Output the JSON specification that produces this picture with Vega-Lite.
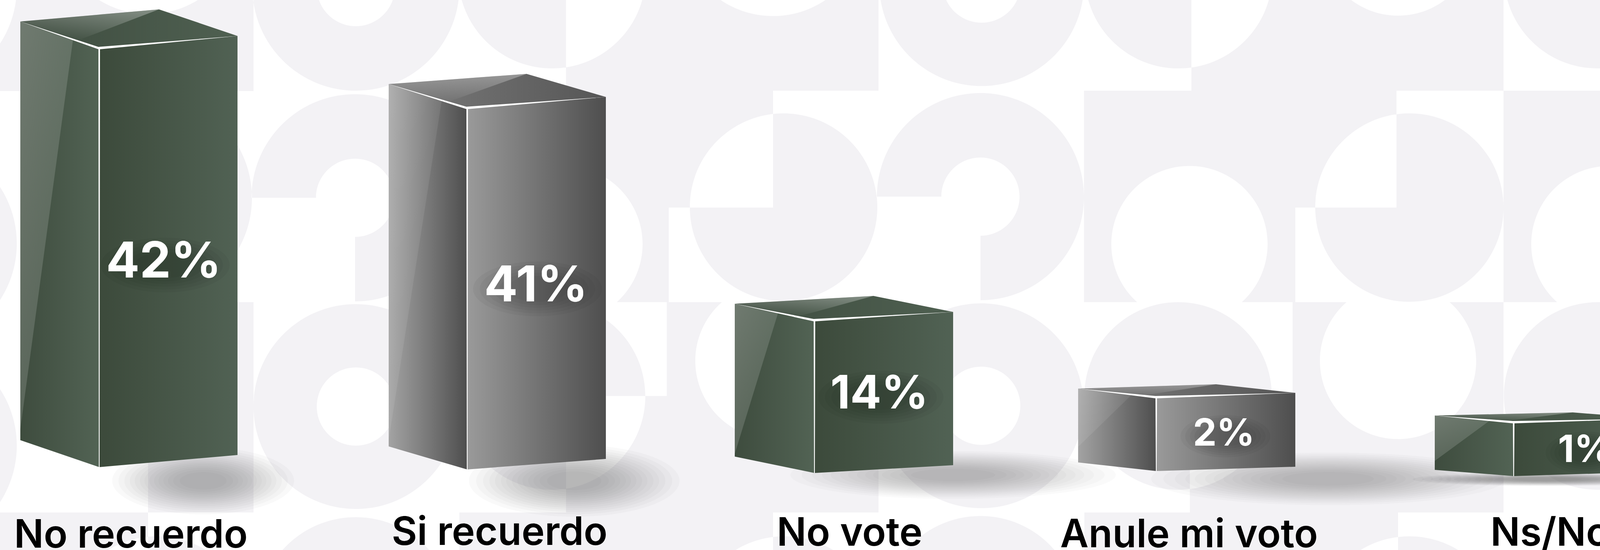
{
"$schema":"https://vega.github.io/schema/vega-lite/v6.json",
"width":4195,"height":1407,"autosize":"none","padding":0,"background":"#ffffff",
"config":{"view":{"stroke":null}},
"data":{"values":[
{"label":"No recuerdo","value":0.42,"rank":1,"tone":"green"},
{"label":"Si recuerdo","value":0.41,"rank":2,"tone":"grey"},
{"label":"No vote","value":0.14,"rank":3,"tone":"green"},
{"label":"Anule mi voto","value":0.02,"rank":4,"tone":"grey"},
{"label":"Ns/Nc","value":0.01,"rank":5,"tone":"green"}
]},
"resolve":{"scale":{"x":"independent","y":"independent","shape":"independent","size":"independent","opacity":"independent"}},
"layer":[
{"data":{"values":[{"art":"pattern"}]},
 "mark":{"type":"point","clip":true,"filled":true,"size":4,"opacity":1,"strokeWidth":0,"fill":"#f3f2f5",
 "shape":"M0 0H649V233H0ZM0 1311H379V1407H0ZM379 773H649V1311H379ZM1449 0H1979V531H1449ZM1979 0H2249V232H1979ZM1175 232H1449V773H1175ZM1449 531H1712V773H1449ZM1449 1013H1707V1311H1449ZM1707 773H2249V1311H1707ZM1176 1311H1979V1407H1176ZM3050 0H3575V531H3050ZM3575 0H3849V232H3575ZM2775 232H3050V773H2775ZM3050 531H3316V773H3050ZM3046 1013H3309V1311H3046ZM3309 773H3849V1311H3309ZM2776 1311H3579V1407H2776ZM4124 0H4195V232H4124ZM3849 232H4195V773H3849ZM4120 1013H4195V1311H4120ZM-487 -33A265 265 0 1 0 43 -33A265 265 0 1 0 -487 -33ZM140 -204A240 240 0 1 0 620 -204A240 240 0 1 0 140 -204ZM115 506A265 265 0 1 0 645 506A265 265 0 1 0 115 506ZM646 -33A265 265 0 1 0 1176 -33A265 265 0 1 0 646 -33ZM811 -33A100 100 0 1 1 1011 -33A100 100 0 1 1 811 -33ZM649 1040A262 262 0 1 0 1173 1040A262 262 0 1 0 649 1040ZM811 1040A100 100 0 1 1 1011 1040A100 100 0 1 1 811 1040ZM644 506A265 265 0 1 1 909 771V606A100 100 0 1 0 809 506ZM1173 -65A240 240 0 1 0 1653 -65A240 240 0 1 0 1173 -65ZM1739 -199A240 240 0 1 0 2219 -199A240 240 0 1 0 1739 -199ZM1766 530A240 240 0 1 0 2246 530A240 240 0 1 0 1766 530ZM1579 773A200 200 0 1 0 1311 773ZM1172 1013A240 240 0 1 0 1652 1013A240 240 0 1 0 1172 1013ZM1848 773A200 200 0 1 0 2112 773ZM2251 -42A262 262 0 1 0 2775 -42A262 262 0 1 0 2251 -42ZM2413 -42A100 100 0 1 1 2613 -42A100 100 0 1 1 2413 -42ZM2250 1038A262 262 0 1 0 2774 1038A262 262 0 1 0 2250 1038ZM2412 1038A100 100 0 1 1 2612 1038A100 100 0 1 1 2412 1038ZM2245 503A265 265 0 1 1 2510 768V603A100 100 0 1 0 2410 503ZM2777 -65A240 240 0 1 0 3257 -65A240 240 0 1 0 2777 -65ZM3379 -160A200 200 0 1 0 3779 -160A200 200 0 1 0 3379 -160ZM3367 531A241 241 0 1 0 3849 531A241 241 0 1 0 3367 531ZM3179 773A200 200 0 1 0 2911 773ZM2776 1013A240 240 0 1 0 3256 1013A240 240 0 1 0 2776 1013ZM3447 773A200 200 0 1 0 3711 773ZM3850 -65A240 240 0 1 0 4330 -65A240 240 0 1 0 3850 -65ZM4254 773A200 200 0 1 0 3986 773ZM3850 1013A240 240 0 1 0 4330 1013A240 240 0 1 0 3850 1013ZM162 1612A240 240 0 1 0 642 1612A240 240 0 1 0 162 1612ZM659 1575A252 252 0 1 0 1163 1575A252 252 0 1 0 659 1575ZM1768 1612A240 240 0 1 0 2248 1612A240 240 0 1 0 1768 1612ZM2260 1570A250 250 0 1 0 2760 1570A250 250 0 1 0 2260 1570ZM3368 1612A240 240 0 1 0 3848 1612A240 240 0 1 0 3368 1612ZM-487 623A265 265 0 1 0 43 623A265 265 0 1 0 -487 623ZM-487 1140A265 265 0 1 0 43 1140A265 265 0 1 0 -487 1140Z"},
 "encoding":{"x":{"value":0},"y":{"value":0}}},
{"encoding":{
  "x":{"field":"rank","type":"quantitative","axis":null,"scale":{"domain":[1,2,3,4,5],"range":[520,1470,2440,3400,3960]}},
  "y":{"field":"rank","type":"quantitative","axis":null,"scale":{"domain":[1,2,3,4,5],"range":[1230,1230,1215,1225,1226]}},
  "opacity":{"field":"rank","type":"quantitative","legend":null,"scale":{"domain":[1,2,3,4,5],"range":[0.035,0.035,0.026,0.026,0.05]}},
  "shape":{"field":"label","type":"nominal","legend":null,"scale":{"domain":["No recuerdo","Si recuerdo","No vote","Anule mi voto","Ns/Nc"],"range":[
   "M-190 0A190 70 0 1 0 190 0A190 70 0 1 0 -190 0Z",
   "M-220 0A220 75 0 1 0 220 0A220 75 0 1 0 -220 0Z",
   "M-340 0A340 50 0 1 0 340 0A340 50 0 1 0 -340 0Z",
   "M-370 0A370 55 0 1 0 370 0A370 55 0 1 0 -370 0Z",
   "M-280 0A280 14 0 1 0 280 0A280 14 0 1 0 -280 0Z"]}}},
 "layer":[
  {"mark":{"type":"point","clip":true,"filled":true,"size":6,"strokeWidth":0,"fill":"#555555"}},
  {"mark":{"type":"point","clip":true,"filled":true,"size":5.2,"strokeWidth":0,"fill":"#555555"}},
  {"mark":{"type":"point","clip":true,"filled":true,"size":4.5,"strokeWidth":0,"fill":"#555555"}},
  {"mark":{"type":"point","clip":true,"filled":true,"size":3.9,"strokeWidth":0,"fill":"#555555"}},
  {"mark":{"type":"point","clip":true,"filled":true,"size":3.4,"strokeWidth":0,"fill":"#555555"}},
  {"mark":{"type":"point","clip":true,"filled":true,"size":2.9,"strokeWidth":0,"fill":"#555555"}},
  {"mark":{"type":"point","clip":true,"filled":true,"size":2.5,"strokeWidth":0,"fill":"#555555"}},
  {"mark":{"type":"point","clip":true,"filled":true,"size":2.1,"strokeWidth":0,"fill":"#555555"}},
  {"mark":{"type":"point","clip":true,"filled":true,"size":1.75,"strokeWidth":0,"fill":"#555555"}},
  {"mark":{"type":"point","clip":true,"filled":true,"size":1.45,"strokeWidth":0,"fill":"#555555"}},
  {"mark":{"type":"point","clip":true,"filled":true,"size":1.15,"strokeWidth":0,"fill":"#555555"}},
  {"mark":{"type":"point","clip":true,"filled":true,"size":0.9,"strokeWidth":0,"fill":"#555555"}},
  {"mark":{"type":"point","clip":true,"filled":true,"size":0.65,"strokeWidth":0,"fill":"#555555"}},
  {"mark":{"type":"point","clip":true,"filled":true,"size":0.4,"strokeWidth":0,"fill":"#555555"}}
 ]},
{"encoding":{
  "x":{"field":"rank","type":"quantitative","axis":null,"scale":{"domain":[1,2,3,4,5],"range":[254,1196,2085,2960,3875]}},
  "y":{"field":"value","type":"quantitative","axis":null,"scale":{"domain":[0.01,0.02,0.14,0.41,0.42],"range":[1080,1016,819,276,123],"nice":false,"zero":false}},
  "shape":{"field":"label","type":"nominal","legend":null,"scale":{"domain":["No recuerdo","Si recuerdo","No vote","Anule mi voto","Ns/Nc"],"range":[
   "M-202 -68L0 0L0 1072L-202 1003Z",
   "M-201 -61L0 0L0 925L-201 866Z",
   "M-204 -42L0 0L0 391L-204 349Z",
   "M-200 -22L0 0L0 189L-200 167Z",
   "M-202 -17L0 0L0 138L-202 122Z"]}}},
 "layer":[
  {"transform":[{"filter":{"field":"tone","equal":"green"}}],
   "mark":{"type":"point","clip":true,"filled":true,"size":4,"opacity":1,"strokeWidth":0,"fill":{"gradient":"linear","x1":0,"x2":1,"y1":0,"y2":0,"stops":[{"offset":0,"color":"#3e4c3e"},{"offset":1,"color":"#526354"}]}}},
  {"transform":[{"filter":{"field":"tone","equal":"grey"}}],
   "mark":{"type":"point","clip":true,"filled":true,"size":4,"opacity":1,"strokeWidth":0,"fill":{"gradient":"linear","x1":0,"x2":1,"y1":0,"y2":0,"stops":[{"offset":0,"color":"#a3a3a3"},{"offset":1,"color":"#4e4e4e"}]}}}
 ]},
{"encoding":{
  "x":{"field":"rank","type":"quantitative","axis":null,"scale":{"domain":[1,2,3,4,5],"range":[254,1196,2085,2960,3875]}},
  "y":{"field":"value","type":"quantitative","axis":null,"scale":{"domain":[0.01,0.02,0.14,0.41,0.42],"range":[1080,1016,819,276,123],"nice":false,"zero":false}},
  "shape":{"field":"label","type":"nominal","legend":null,"scale":{"domain":["No recuerdo","Si recuerdo","No vote","Anule mi voto","Ns/Nc"],"range":[
   "M0 0L354 -31L354 1041L0 1072Z",
   "M0 0L355 -28L355 898L0 925Z",
   "M0 0L355 -21L355 371L0 391Z",
   "M0 0L356 -11L356 178L0 189Z",
   "M0 0L355 -9L355 127L0 138Z"]}}},
 "layer":[
  {"transform":[{"filter":{"field":"tone","equal":"green"}}],
   "mark":{"type":"point","clip":true,"filled":true,"size":4,"opacity":1,"strokeWidth":0,"fill":{"gradient":"linear","x1":0,"x2":1,"y1":0,"y2":0,"stops":[{"offset":0,"color":"#3c4a3b"},{"offset":1,"color":"#516254"}]}}},
  {"transform":[{"filter":{"field":"tone","equal":"grey"}}],
   "mark":{"type":"point","clip":true,"filled":true,"size":4,"opacity":1,"strokeWidth":0,"fill":{"gradient":"linear","x1":0,"x2":1,"y1":0,"y2":0,"stops":[{"offset":0,"color":"#9a9a9a"},{"offset":1,"color":"#4e4e4e"}]}}}
 ]},
{"encoding":{
  "x":{"field":"rank","type":"quantitative","axis":null,"scale":{"domain":[1,2,3,4,5],"range":[254,1196,2085,2960,3875]}},
  "y":{"field":"value","type":"quantitative","axis":null,"scale":{"domain":[0.01,0.02,0.14,0.41,0.42],"range":[1080,1016,819,276,123],"nice":false,"zero":false}},
  "shape":{"field":"label","type":"nominal","legend":null,"scale":{"domain":["No recuerdo","Si recuerdo","No vote","Anule mi voto","Ns/Nc"],"range":[
   "M-202 -68L153 -99L354 -31L0 0Z",
   "M-201 -61L152 -87L355 -28L0 0Z",
   "M-204 -42L151 -62L355 -21L0 0Z",
   "M-200 -22L153 -33L356 -11L0 0Z",
   "M-202 -17L151 -25L355 -9L0 0Z"]}}},
 "layer":[
  {"transform":[{"filter":{"field":"tone","equal":"green"}}],
   "mark":{"type":"point","clip":true,"filled":true,"size":4,"opacity":1,"strokeWidth":0,"fill":{"gradient":"linear","x1":0,"x2":1,"y1":0,"y2":0,"stops":[{"offset":0,"color":"#3e4c3f"},{"offset":1,"color":"#4f6051"}]}}},
  {"transform":[{"filter":{"field":"tone","equal":"grey"}}],
   "mark":{"type":"point","clip":true,"filled":true,"size":4,"opacity":1,"strokeWidth":0,"fill":{"gradient":"linear","x1":0,"x2":1,"y1":0,"y2":0,"stops":[{"offset":0,"color":"#7c7c7c"},{"offset":1,"color":"#565656"}]}}}
 ]},
{"encoding":{
  "x":{"field":"rank","type":"quantitative","axis":null,"scale":{"domain":[1,2,3,4,5],"range":[254,1196,2085,2960,3875]}},
  "y":{"field":"value","type":"quantitative","axis":null,"scale":{"domain":[0.01,0.02,0.14,0.41,0.42],"range":[1080,1016,819,276,123],"nice":false,"zero":false}},
  "shape":{"field":"label","type":"nominal","legend":null,"scale":{"domain":["No recuerdo","Si recuerdo","No vote","Anule mi voto","Ns/Nc"],"range":[
   "M-202 -68L-67 -23L-202 975Z",
   "M-201 -61L-65 -20L-201 850Z",
   "M-204 -42L-93 -19L-204 342Z",
   "M-200 -22L-62 -7L-200 127Z",
   "M-202 -17L-60 -5L-202 99Z"]}}},
 "layer":[
  {"transform":[{"filter":{"field":"tone","equal":"green"}}],
   "mark":{"type":"point","clip":true,"filled":true,"size":4,"opacity":1,"strokeWidth":0,"fill":{"gradient":"linear","x1":0,"x2":1,"y1":0,"y2":1,"stops":[{"offset":0,"color":"rgba(255,255,255,0.26)"},{"offset":1,"color":"rgba(255,255,255,0.04)"}]}}},
  {"transform":[{"filter":{"field":"tone","equal":"grey"}}],
   "mark":{"type":"point","clip":true,"filled":true,"size":4,"opacity":1,"strokeWidth":0,"fill":{"gradient":"linear","x1":0,"x2":1,"y1":0,"y2":1,"stops":[{"offset":0,"color":"rgba(255,255,255,0.14)"},{"offset":1,"color":"rgba(255,255,255,0.02)"}]}}}
 ]},
{"encoding":{
  "x":{"field":"rank","type":"quantitative","axis":null,"scale":{"domain":[1,2,3,4,5],"range":[254,1196,2085,2960,3875]}},
  "y":{"field":"value","type":"quantitative","axis":null,"scale":{"domain":[0.01,0.02,0.14,0.41,0.42],"range":[1080,1016,819,276,123],"nice":false,"zero":false}},
  "shape":{"field":"label","type":"nominal","legend":null,"scale":{"domain":["No recuerdo","Si recuerdo","No vote","Anule mi voto","Ns/Nc"],"range":[
   "M-202 -68L153 -99L-54 -20Z",
   "M-201 -61L152 -87L-47 -16Z",
   "M-204 -42L151 -62L-43 -9Z",
   "M-200 -22L153 -33L-35 -4Z",
   "M-202 -17L151 -25L-26 -2Z"]}}},
 "mark":{"type":"point","clip":true,"filled":true,"size":4,"opacity":1,"strokeWidth":0,"fill":{"gradient":"linear","x1":0.9,"x2":0.5,"y1":0,"y2":1,"stops":[{"offset":0,"color":"rgba(255,255,255,0.32)"},{"offset":1,"color":"rgba(255,255,255,0.02)"}]}}},
{"encoding":{
  "x":{"field":"rank","type":"quantitative","axis":null,"scale":{"domain":[1,2,3,4,5],"range":[254,1196,2085,2960,3875]}},
  "y":{"field":"value","type":"quantitative","axis":null,"scale":{"domain":[0.01,0.02,0.14,0.41,0.42],"range":[1080,1016,819,276,123],"nice":false,"zero":false}},
  "shape":{"field":"label","type":"nominal","legend":null,"scale":{"domain":["No recuerdo","Si recuerdo","No vote","Anule mi voto","Ns/Nc"],"range":[
   "M-202 -68L-2 -3L354 -31L2 3L1 1072L-1 1072L-2 3Z",
   "M-201 -61L-2 -3L355 -28L2 3L1 925L-1 925L-2 3Z",
   "M-204 -42L-2 -3L355 -21L2 3L1 391L-1 391L-2 3Z",
   "M-200 -22L-2 -3L356 -11L2 3L1 189L-1 189L-2 3Z",
   "M-202 -17L-2 -3L355 -9L2 3L1 138L-1 138L-2 3Z"]}}},
 "mark":{"type":"point","clip":true,"filled":true,"size":4,"opacity":1,"strokeWidth":0,"fill":"#ffffff"}},
{"encoding":{
  "x":{"field":"rank","type":"quantitative","axis":null,"scale":{"domain":[1,2,3,4,5],"range":[423,1376,2255,3137,4062]}},
  "y":{"field":"rank","type":"quantitative","axis":null,"scale":{"domain":[1,2,3,4,5],"range":[678,739,1016,1116,1158]}},
  "shape":{"field":"label","type":"nominal","legend":null,"scale":{"domain":["No recuerdo","Si recuerdo","No vote","Anule mi voto","Ns/Nc"],"range":[
   "M-165 0A165 70 0 1 0 165 0A165 70 0 1 0 -165 0Z",
   "M-165 0A165 70 0 1 0 165 0A165 70 0 1 0 -165 0Z",
   "M-160 0A160 68 0 1 0 160 0A160 68 0 1 0 -160 0Z",
   "M-115 0A115 54 0 1 0 115 0A115 54 0 1 0 -115 0Z",
   "M-105 0A105 54 0 1 0 105 0A105 54 0 1 0 -105 0Z"]}}},
 "layer":[
  {"mark":{"type":"point","clip":true,"filled":true,"size":4,"opacity":0.035,"strokeWidth":0,"fill":"#000000"}},
  {"mark":{"type":"point","clip":true,"filled":true,"size":3.2,"opacity":0.035,"strokeWidth":0,"fill":"#000000"}},
  {"mark":{"type":"point","clip":true,"filled":true,"size":2.5,"opacity":0.035,"strokeWidth":0,"fill":"#000000"}},
  {"mark":{"type":"point","clip":true,"filled":true,"size":1.9,"opacity":0.035,"strokeWidth":0,"fill":"#000000"}},
  {"mark":{"type":"point","clip":true,"filled":true,"size":1.4,"opacity":0.035,"strokeWidth":0,"fill":"#000000"}},
  {"mark":{"type":"point","clip":true,"filled":true,"size":0.9,"opacity":0.035,"strokeWidth":0,"fill":"#000000"}}
 ]},
{"encoding":{
  "x":{"field":"rank","type":"quantitative","axis":null,"scale":{"domain":[1,2,3,4,5],"range":[419,1372,2251,3133,4058]}},
  "y":{"field":"rank","type":"quantitative","axis":null,"scale":{"domain":[1,2,3,4,5],"range":[710,771,1045,1140,1182]}},
  "size":{"field":"rank","type":"quantitative","legend":null,"scale":{"domain":[1,2,3,4,5],"range":[127,127,118,96,96]}},
  "text":{"field":"value","type":"quantitative","format":".0%"}},
 "mark":{"type":"text","font":"Inter","fontWeight":700,"align":"center","baseline":"alphabetic","fill":"#ffffff"}},
{"encoding":{
  "x":{"field":"rank","type":"quantitative","axis":null,"scale":{"domain":[1,2,3,4,5],"range":[335,1279,2175,3044,3967]}},
  "y":{"field":"rank","type":"quantitative","axis":null,"scale":{"domain":[1,2,3,4,5],"range":[1401,1394,1396,1400,1396]}},
  "text":{"field":"label","type":"nominal"}},
 "mark":{"type":"text","font":"Inter","fontWeight":600,"fontSize":100,"align":"center","baseline":"alphabetic","fill":"#000000"}}
]
}
